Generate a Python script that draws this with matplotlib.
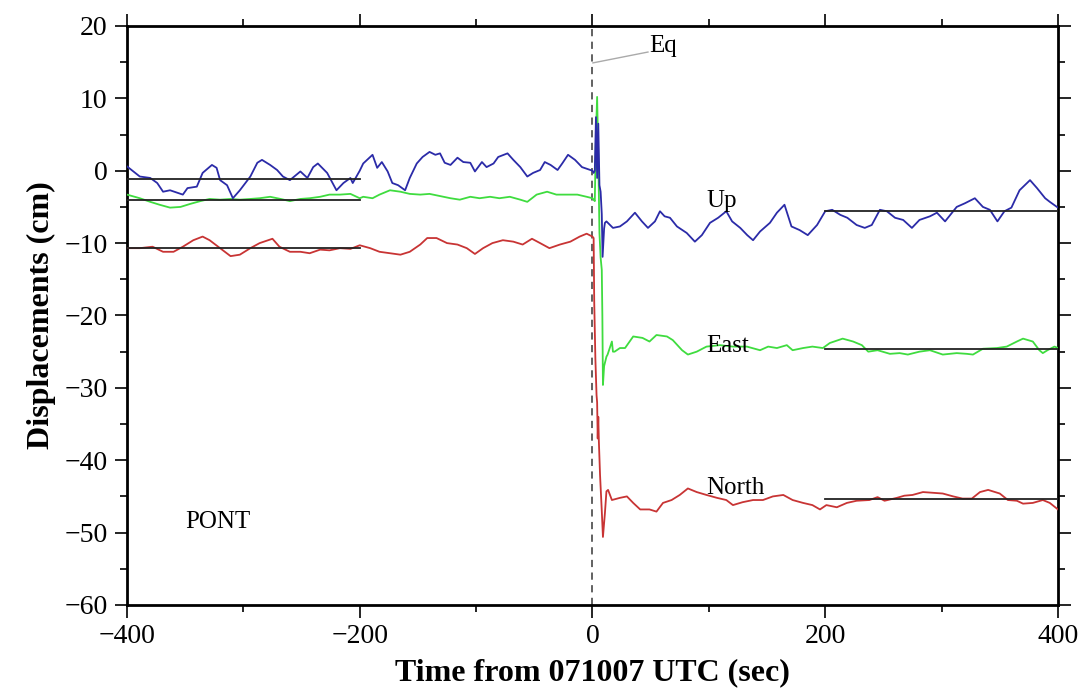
import matplotlib
matplotlib.use("Agg")
import matplotlib.pyplot as plt
from matplotlib.ticker import MultipleLocator

plt.rcParams['font.family'] = ['Liberation Serif', 'DejaVu Serif']

# ---------------- data ----------------
up_t = [-400, -389, -380, -374, -369, -363, -352, -348, -340, -335, -327, -323, -320, -314, -309, -303,
        -294, -288, -284, -277, -271, -266, -260, -251, -245, -240, -236, -228, -220, -214, -208, -206,
        -200, -197, -189, -185, -181, -176, -172, -167, -161, -157, -151, -146, -140, -135, -131, -127,
        -122, -116, -111, -105, -101, -95, -91, -85, -81, -73, -68, -62, -56, -51, -45, -41, -36, -30,
        -26, -21, -15, -9, -2, 0, 1, 2, 3, 4, 5, 6, 7, 8, 8.7, 10, 10.7, 12, 17.6, 23.6, 29.6, 36.5,
        42.5, 47.7, 53.7, 58, 62, 66.6, 72.6, 81, 88, 94, 101, 108, 115, 120, 127, 133, 138, 144, 152.5,
        158.5, 165, 171, 178, 185, 193, 200, 206, 213, 219, 227, 234, 240, 247, 253, 260, 267, 274.5,
        281, 290, 296, 303, 309, 313, 320, 328.6, 335.5, 341.5, 348, 354, 360, 367, 376, 382, 389, 393, 400]
up_v = [0.6, -0.8, -1.0, -1.7, -2.9, -2.7, -3.3, -2.4, -2.2, -0.3, 0.8, 0.4, -1.3, -2.0, -3.8, -2.7,
        -0.8, 1.1, 1.5, 0.8, 0.1, -0.8, -1.3, -0.1, -1.0, 0.5, 1.0, -0.3, -2.7, -1.7, -1.0, -1.7,
        0.0, 1.0, 2.2, 0.4, 1.2, -0.1, -1.7, -2.0, -2.7, -1.0, 1.0, 1.9, 2.6, 2.2, 2.4, 1.1,
        0.8, 1.8, 1.2, 1.1, -0.1, 1.2, 0.5, 1.0, 1.9, 2.4, 1.5, 0.5, -0.8, -0.3, 0.1, 1.2, 0.8, 0.1,
        1.0, 2.2, 1.5, 0.5, 0.1, 0.0, -0.3, 0.0, 7.4, -1.0, 6.5, -2.0, -2.9, -6.0, -11.9, -8.0, -7.2, -7.0, -7.9, -7.7, -7.0, -5.8,
        -7.0, -7.9, -7.0, -5.6, -6.3, -6.5, -7.7, -8.6, -9.8, -8.9, -7.2, -6.5, -5.6, -7.0, -7.9, -8.9, -9.6, -8.4, -7.2,
        -5.8, -4.7, -7.7, -8.2, -8.9, -7.5, -5.6, -5.4, -6.1, -6.5, -7.5, -7.9, -7.5, -5.4, -5.6, -6.5, -6.8, -7.9,
        -6.8, -6.3, -5.8, -7.0, -5.8, -5.0, -4.5, -3.8, -5.0, -5.4, -7.0, -5.6, -5.1, -2.7, -1.3, -2.4, -3.8, -4.3, -5.1]

east_t = [-400, -389, -380, -372, -363, -354, -346, -337, -329, -320, -311, -303, -294, -286, -277, -268,
          -260, -251, -243, -234, -226, -217, -208, -200, -197, -189, -183, -174, -165, -157, -148, -140,
          -131, -122, -114, -105, -97, -88, -80, -71, -62, -56, -48, -39, -31, -22, -13, -5, 0,
          1, 2, 3, 4, 5, 6, 7, 8, 8.5, 9, 10, 12, 13, 16.7, 17.6, 19, 23.6, 28, 35, 43, 49, 55, 64, 69, 77,
          82, 89.6, 98, 109.5, 120.7, 132.7, 144, 151, 158.5, 167, 172, 181, 189, 198, 204, 215, 224,
          231.5, 237, 245, 255.6, 264, 271, 281, 290, 301, 313, 321.6, 327, 335.5, 347.5, 356, 364.7,
          370, 378.4, 384, 387, 391, 397, 400]
east_v = [-3.3, -3.8, -4.3, -4.7, -5.1, -5.0, -4.6, -4.2, -3.9, -4.0, -3.9, -4.0, -3.9, -3.8, -3.6, -3.9,
          -4.2, -3.9, -3.8, -3.6, -3.3, -3.3, -3.2, -3.8, -3.6, -3.8, -3.3, -2.7, -2.9, -3.2, -3.3, -3.2,
          -3.5, -3.8, -4.0, -3.6, -3.8, -3.6, -3.8, -3.6, -4.0, -4.3, -3.3, -2.9, -3.3, -3.3, -3.3, -3.6, -3.8,
          -4.0, -4.2, 5.0, 10.2, 2.0, -8.6, -12.0, -13.7, -20.0, -29.6, -27.0, -25.7, -25.4, -23.6, -25.0, -25.0, -24.5, -24.5, -22.9, -23.1, -23.6, -22.7, -22.9, -23.4, -24.8,
          -25.4, -25.0, -24.3, -24.1, -24.3, -24.3, -24.8, -24.3, -24.5, -24.1, -24.8, -24.5, -24.3, -24.5, -23.8, -23.2, -23.6,
          -24.1, -25.0, -24.8, -25.3, -25.2, -25.4, -25.0, -24.8, -25.4, -25.2, -25.3, -25.4, -24.6, -24.5, -24.3, -23.6,
          -23.2, -23.6, -24.8, -25.2, -24.8, -24.3, -24.5]

north_t = [-400, -389, -378, -369, -360, -352, -343, -335, -329, -320, -311, -303, -294, -286, -275, -269,
           -260, -251, -243, -234, -226, -217, -208, -200, -191, -183, -174, -165, -157, -148, -142, -134,
           -125, -116, -108, -101, -94, -86, -77, -68, -60, -52, -45, -37, -28, -19, -11, -5, 0,
           1, 1.5, 2.5, 3.5, 4, 4.5, 5, 5.5, 6.5, 8, 9, 10.7, 12, 13.4, 16.7, 23.6, 29.6, 35, 41, 49, 55,
           60.6, 68, 75, 82, 89.6, 98, 107, 115, 120.7, 129, 138, 146.5, 155, 164, 172, 181, 189, 195.5,
           201, 210, 218.6, 227, 238, 245, 251, 261.6, 268, 275, 284, 292.6, 301, 310, 318, 326, 333, 340,
           350, 357, 364.7, 370, 378.4, 387, 393, 400]
north_v = [-10.7, -10.7, -10.5, -11.2, -11.2, -10.5, -9.6, -9.1, -9.6, -10.7, -11.8, -11.6, -10.7, -10.0, -9.4, -10.5,
           -11.2, -11.2, -11.4, -10.9, -11.0, -10.7, -10.8, -10.3, -10.7, -11.2, -11.4, -11.6, -11.2, -10.2, -9.3, -9.3,
           -10.0, -10.2, -10.7, -11.5, -10.7, -10.0, -9.6, -9.8, -10.2, -9.4, -10.0, -10.7, -10.2, -9.8, -9.1, -8.7, -9.1,
           -9.3, -18.0, -26.0, -31.0, -32.0, -37.0, -34.0, -37.4, -42.0, -47.0, -50.6, -47.3, -44.3, -44.1, -45.5, -45.2, -45.0, -45.9, -46.8, -46.8, -47.1,
           -45.9, -45.5, -44.8, -43.9, -44.4, -44.8, -45.2, -45.5, -46.2, -45.8, -45.5, -45.5, -45.0, -44.8, -45.5, -45.9, -46.2, -46.8,
           -46.2, -46.5, -45.9, -45.6, -45.5, -45.1, -45.6, -45.2, -44.9, -44.8, -44.4, -44.5, -44.6, -45.0, -45.3, -45.3, -44.4, -44.1,
           -44.6, -45.5, -45.6, -46.0, -45.9, -45.5, -45.9, -46.8]

# mean (offset) levels before and after the event
pre_span = [-400, -200]
post_span = [200, 400]
up_means = [-1.1, -5.5]
east_means = [-4.0, -24.6]
north_means = [-10.7, -45.3]

series_labels = ["Up", "East", "North"]
label_pos_t = [111, 116, 123]
label_pos_v = [-4.2, -24.2, -43.8]

# ---------------- figure ----------------
fig = plt.figure(figsize=(10.78, 6.91), dpi=100)
ax = fig.add_axes([0.1178, 0.1245, 0.8636, 0.8379])

ax.set_xlim(-400, 400)
ax.set_ylim(-60, 20)

colors = ["#2b2ba8", "#3fdc3f", "#c83434"]
for (t, v, c) in [(east_t, east_v, colors[1]), (north_t, north_v, colors[2]), (up_t, up_v, colors[0])]:
    ax.plot(t, v, color=c, lw=1.3, zorder=3)

for means in (up_means, east_means, north_means):
    ax.plot(pre_span, [means[0]] * 2, color="#222222", lw=1.3, zorder=4)
    ax.plot(post_span, [means[1]] * 2, color="#222222", lw=1.3, zorder=4)

# event marker
ax.axvline(0, color="#555555", lw=1.3, ls=(0, (4, 3)), zorder=2)
ax.plot([0.4, 47.7], [14.9, 16.4], color="#aaaaaa", lw=1.0, zorder=2)
ax.text(60.6, 17.3, "Eq", fontsize=18, ha="center", va="center")

for lab, tx, vy in zip(series_labels, label_pos_t, label_pos_v):
    ax.text(tx, vy, lab, fontsize=18, ha="center", va="center", zorder=5)
ax.text(-322, -48.6, "PONT", fontsize=18, ha="center", va="center")

# axes styling (GMT-like frame)
for s in ax.spines.values():
    s.set_linewidth(2.0)
ax.xaxis.set_major_locator(MultipleLocator(200))
ax.xaxis.set_minor_locator(MultipleLocator(100))
ax.yaxis.set_major_locator(MultipleLocator(10))
ax.yaxis.set_minor_locator(MultipleLocator(5))
ax.tick_params(which="both", direction="out", top=True, right=True, width=1.2)
ax.tick_params(which="major", length=9, labelsize=20, pad=5)
ax.tick_params(which="minor", length=5)
ax.set_xticks([-400, -200, 0, 200, 400])
ax.set_xticklabels(["\u2212400", "\u2212200", "0", "200", "400"])

ax.set_xlabel("Time from 071007 UTC (sec)", fontsize=23, fontweight="bold", labelpad=6)
ax.set_ylabel("Displacements (cm)", fontsize=23, fontweight="bold", labelpad=6)

fig.savefig("out.png", dpi=100)
